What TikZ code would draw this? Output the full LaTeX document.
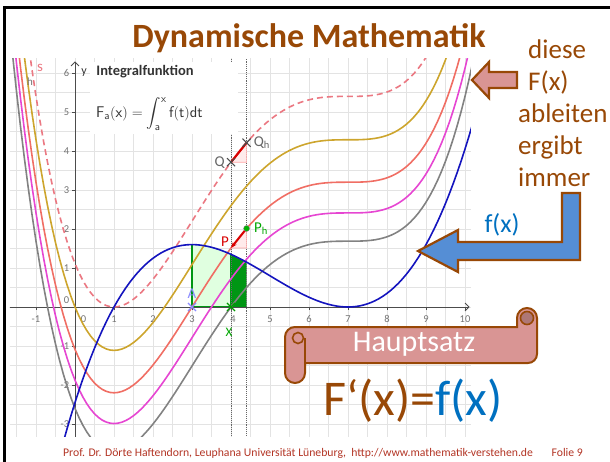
\documentclass[tikz,border=0pt]{standalone}
\usepackage{amsmath}
\usepackage{fontspec}
\setmainfont{Carlito}
\usetikzlibrary{arrows.meta,positioning,shapes.misc}
\definecolor{slidebrown}{RGB}{152,72,6}
\definecolor{scrollpink}{RGB}{217,149,148}
\definecolor{arrowblue}{RGB}{85,142,213}
\definecolor{fxblue}{RGB}{0,112,192}
\definecolor{footred}{RGB}{178,52,36}
\definecolor{ggyellow}{RGB}{205,165,45}
\definecolor{ggred}{RGB}{240,110,100}
\definecolor{ggmagenta}{RGB}{230,70,210}
\definecolor{gggray}{RGB}{130,130,130}
\definecolor{ggblue}{RGB}{20,20,190}
\definecolor{ggpink}{RGB}{235,120,130}
\definecolor{areagreen}{RGB}{0,150,20}
\tikzset{declare function={
  Fint(\x)=0.05*\x*(-49+\x*(31.5+\x*(-5+\x/4)));
  fder(\x)=0.05*(\x-1)*(\x-7)*(\x-7);
}}

\begin{document}
\begin{tikzpicture}[x=1pt, y=-1pt,
  gridline/.style={gray!22, line width=0.5pt},
  axisline/.style={black!70, line width=0.9pt},
  ticklab/.style={text=black!55, font=\fontsize{10.5}{12}\selectfont, inner sep=0.5pt},
  curve/.style={line width=1.6pt},
  dotline/.style={black!60, densely dotted, line width=0.9pt},
  slopetri/.style={draw=red!35, fill=red!8, line width=0.6pt},
  xmark/.style={cross out, draw, minimum size=7pt, inner sep=0pt, line width=1.1pt},
  ptlab/.style={font=\fontsize{15}{17}\selectfont, inner sep=0pt},
  blockarr/.style={draw=slidebrown, line width=2.2pt, line join=miter},
  note/.style={text=slidebrown, font=\fontsize{27}{32}\selectfont, align=left, inner sep=0pt}
]
\useasboundingbox (0,0) rectangle (610,462);
\draw[line width=3pt] (4,470) -- (4,8) -- (615,8);

% GeoGebra window
\begin{scope}[shift={(75,307)}, x=39pt, y=39pt]
  \clip (-1.67,-3.32) rectangle (10.15,6.38);
  \draw[gridline, step=0.5] (-2,-4) grid (11,7);
  \fill[green!12] (3,0) -- plot[domain=3:4] (\x,{fder(\x)}) -- (4,0) -- cycle;
  \fill[areagreen] (4,0) -- plot[domain=4:4.4] (\x,{fder(\x)}) -- (4.4,0) -- cycle;
  \draw[areagreen, line width=1.6pt] (3,{fder(3)}) -- (3,0) -- (4.4,0) (4,0) -- (4,{fder(4)});
  \draw[dotline] (4,-3.4) -- (4,6.4) (4.4,-3.4) -- (4.4,6.4);
  \draw[axisline, -{Straight Barb[length=4pt]}] (-1.7,0) -- (10.12,0);
  \draw[axisline, -{Straight Barb[length=4pt]}] (0,-3.4) -- (0,6.3);
  \foreach \i in {-1,...,10} \draw[axisline] (\i,0) -- (\i,-0.07);
  \foreach \j in {-3,...,6} \draw[axisline] (0,\j) -- (-0.07,\j);
  \foreach \i in {-1,1,2,3,5,6,...,10} \node[ticklab] (x\i) at (\i,-0.3) {\i};
  \node[ticklab] (x4) at (4.05,-0.3) {4};
  \node[ticklab] (x0) at (0.22,-0.3) {0};
  \foreach \j in {-3,-2,-1,1,2,...,6} \node[ticklab, anchor=east] (y\j) at (-0.13,\j) {\j};
  \node[ticklab, anchor=east] (y0) at (-0.13,0.18) {0};
  % integral functions F_a and f
  \draw[curve, gggray] plot[domain=-1.7:10.2, samples=120] (\x,{Fint(\x)-2.6});
  \draw[curve, ggmagenta] plot[domain=-1.7:10.2, samples=120] (\x,{Fint(\x)-1.8758});
  \draw[curve, ggred] plot[domain=-1.7:10.2, samples=120] (\x,{Fint(\x)-1.0875});
  \draw[curve, ggyellow] plot[domain=-1.7:10.2, samples=120] (\x,{Fint(\x)});
  \draw[curve, ggpink, dash pattern=on 6pt off 4pt] plot[domain=-1.7:10.2, samples=120] (\x,{Fint(\x)+1.1125});
  \draw[curve, ggblue] plot[domain=-1.7:10.2, samples=120] (\x,{fder(\x)});
  \coordinate (P) at (4,{Fint(4)-1.0875});
  \coordinate (Ph) at (4.4,{Fint(4.4)-1.0875});
  \coordinate (Q) at (4,{Fint(4)+1.1125});
  \coordinate (Qh) at (4.4,{Fint(4.4)+1.1125});
  \filldraw[slopetri] (P) -| (Ph) -- cycle;
  \filldraw[slopetri] (Q) -| (Qh) -- cycle;
  \draw[red!85!black, line width=2.2pt] (Q) -- (Qh);
  \draw[red!85!black, line width=2pt, -{Stealth[length=6pt]}] (Ph) -- (P);
  \node[xmark, draw=black!70] (q) at (Q) {};
  \node[xmark, draw=black!70] (qh) at (Qh) {};
  \node[xmark, draw=blue!45] (a) at (3,0) {};
  \node[xmark, draw=green!60!black] (xpt) at (4,0) {};
  \node[circle, fill=green!70!black, draw=black!50, minimum size=6pt, inner sep=0pt] (ph) at (Ph) {};
  \node[ptlab, text=black!60, left=2pt of q] (qlab) {Q};
  \node[ptlab, text=black!60, right=3pt of qh] (qhlab) {Q\textsubscript{h}};
  \node[ptlab, text=red!85!black, above left=1pt and 2pt of P] (plab) {P};
  \node[ptlab, text=green!65!black, right=4pt of ph] (phlab) {P\textsubscript{h}};
  \node[ptlab, text=blue!45, above=4pt of a] (alab) {A};
  \node[ptlab, text=green!65!black, font=\fontsize{13}{15}\selectfont] (xlab) at (3.95,-0.66) {X};
\end{scope}
\node[ptlab, text=ggpink] (slab) at (40,68) {s};
\node[ptlab, text=black!55, font=\fontsize{11}{12}\selectfont] (hlab) at (30,82) {h};
\node[ptlab, text=black!80, font=\fontsize{12}{14}\selectfont] (ylab) at (84,73) {y};
\fill[white] (90,62) rectangle (238,134);
\node[text=black!80, font=\bfseries\fontsize{14.5}{16}\selectfont, inner sep=0pt] (inttitle) at (145,72) {Integralfunktion};
\node[anchor=west, text=black!80, font=\fontsize{15.5}{18}\selectfont, inner sep=0pt] (intformula) at (96,114)
  {$\mathsf{F_a(x)} = \displaystyle\int_{\mathsf a}^{\mathsf x} \mathsf{f(t)dt}$};

% slide texts and shapes
\node[anchor=base, text=slidebrown, font=\bfseries\fontsize{34}{38}\selectfont, inner sep=0pt] (title) at (309,48) {Dynamische Mathematik};
\node[note, anchor=north west] (note) at (518,40) {\hspace*{10pt}diese\\\hspace*{10pt}F(x)\\ableiten\\ergibt\\immer};
\draw[blockarr, fill=scrollpink] (472,80) -- (489,62) -- (489,72) -- (517,72) -- (517,88) -- (489,88) -- (489,98) -- cycle;
\draw[blockarr, fill=arrowblue] (418,251) -- (458,230) -- (458,242) -- (562,242) -- (562,193) -- (580,193) -- (580,260) -- (458,260) -- (458,272) -- cycle;
\node[text=fxblue, font=\fontsize{26}{30}\selectfont, inner sep=0pt] (fx) at (502,225) {f(x)};

% scroll
\draw[blockarr, fill=scrollpink, line width=2pt] (295,327) -- (517,327) -- (517,318) arc (180:360:10) -- (537,354) arc (0:90:9) -- (305,363) -- (305,373) arc (0:180:10) -- (285,337) arc (180:270:10) -- cycle;
\draw[slidebrown, line width=2pt] (305,372) -- (305,338);
\draw[slidebrown, line width=1.6pt] (298,338) circle (5.5);
\draw[slidebrown, line width=1.6pt, fill=scrollpink!80!black] (527,318) circle (6.5);
\node[text=white, font=\fontsize{30}{32}\selectfont, inner sep=0pt] (hauptsatz) at (414,344) {Hauptsatz};
\node[anchor=base west, font=\fontsize{50}{54}\selectfont, inner sep=0pt] (formula) at (323,415)
  {\textcolor{slidebrown}{F‘(x)=}\textcolor{fxblue}{f(x)}};

% footer
\draw[footred, double=white, double distance=1.4pt, line width=0.6pt] (30,440) rectangle (620,475);
\node[text=footred, font=\fontsize{11.7}{13}\selectfont, inner sep=0pt] (footer) at (323,453)
  {Prof. Dr. Dörte Haftendorn, Leuphana Universität Lüneburg,\ \ http://www.mathematik-verstehen.de\hspace{1.6em}Folie 9};
\end{tikzpicture}
\end{document}
